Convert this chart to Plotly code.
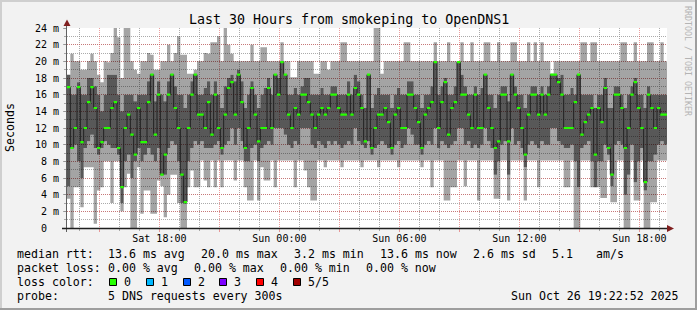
import pandas as pd
import plotly.graph_objects as go

# ---------------- data ----------------
start_time = "2025-10-25 13:22:52"
end_time = "2025-10-26 19:22:52"
bin_minutes = 10

light_min = [
    3.5, 0, 4.9, 4.9, 2.5, 7.3, 7.3, 7.3, 0.5, 4.5,
    4.9, 8, 8, 3, 8, 8, 2, 4.9, 6.5, 0,
    0, 7.3, 1.7, 4.5, 4.5, 1.7, 1.7, 5.7, 5, 1.3,
    4, 6.4, 6.4, 3, 0, 0, 4.9, 6.9, 4.9, 4.9,
    8.1, 5.7, 4.9, 8.1, 4.9, 8.1, 4.9, 8.1, 8.1, 8.1,
    5.7, 8.1, 8.1, 4.9, 3.3, 3.3, 8.1, 3.3, 7.3, 5.7,
    5.7, 8.1, 4.9, 8.1, 8.1, 8.1, 8.1, 8.1, 4.9, 8.1,
    8.1, 6.9, 4.9, 3.3, 3.3, 8.1, 8.1, 7.3, 8.1, 8.1,
    8.1, 8.1, 7.3, 8.1, 8.1, 8.1, 8.1, 8.1, 7.3, 8.1,
    8.1, 8.1, 8.1, 7.3, 8.1, 8.1, 8.1, 8.1, 8.1, 7.3,
    8.1, 8.1, 8.1, 8.1, 8.1, 8.1, 7.3, 8.1, 8.1, 4.9,
    8.1, 8.1, 8.1, 3.3, 3.3, 4.9, 4.9, 8.1, 8.1, 5,
    8.1, 8.1, 8.1, 3.3, 8.1, 8.1, 8.1, 8.1, 3.5, 3.5,
    8.1, 8.1, 3.3, 8.1, 8.1, 8.1, 8.1, 3.3, 8.1, 8.1,
    8.1, 4.9, 8.1, 8.1, 8.1, 8.1, 8.1, 8.1, 8.1, 4.9,
    4.9, 8.1, 0, 0, 8.1, 8.1, 8.1, 4.9, 4.9, 4.9,
    3.6, 3.6, 8.1, 3.1, 3.1, 8.1, 8.1, 0, 0, 8.1,
    3.3, 3.3, 8.1, 0, 0, 3.1, 3.1, 8.1, 8.1, 8.1,
]

dark_lo = [
    5, 9.6, 10, 8, 6, 9.6, 10.4, 11.2, 9.6, 8.8,
    9.6, 10.4, 10, 9.6, 9.6, 8.8, 3, 8, 8.8, 6,
    8, 9.6, 8, 8.8, 9.6, 8.8, 8, 9.6, 6.4, 6.4,
    9.6, 10.4, 10, 8, 3, 2.9, 8, 9.6, 10.4, 10,
    10.4, 9.6, 9.6, 9.6, 10, 10.4, 8.8, 10, 10.4, 12,
    10, 12, 10.4, 8, 8, 9.6, 10, 8, 9.6, 10,
    10.4, 10, 12, 12, 12, 11.2, 10, 9.6, 10.4, 10,
    12, 12, 12, 10, 9.6, 10.4, 10, 9.6, 10.4, 10,
    10.4, 10, 9.6, 10, 10.4, 10, 12, 10.4, 10, 9.6,
    10.4, 8.8, 9.6, 10, 10.4, 10, 9.6, 8.8, 10, 10.4,
    9.6, 10, 12, 11.2, 10, 10, 8.8, 10, 10.4, 10,
    12, 9.6, 10.4, 10, 9.6, 10, 10.4, 12, 12, 10,
    10.4, 9.6, 10, 9.6, 10, 12, 10.4, 9.6, 6.4, 8,
    10, 10.4, 6.4, 12, 10, 10.4, 9.6, 7.3, 10, 10.4,
    10, 9.6, 10.4, 10, 10, 12, 12, 10.4, 10, 9.6,
    9.6, 10, 8, 4.9, 9.6, 10, 10.4, 8, 4.9, 8,
    8, 10, 8.8, 5, 10, 10.4, 10, 4, 6.4, 10,
    5.5, 8, 9.6, 4.5, 8, 8, 8.8, 10, 10.4, 10,
]

median_rtt = [
    16.9, 9.6, 12, 16.9, 10.3, 12, 15.1, 16.9, 14.4, 9.6,
    10.3, 12, 12, 14.4, 15.1, 9.6, 4.9, 12, 13.6, 11.2,
    8.8, 14.4, 10.3, 10.3, 15.1, 18.4, 11.2, 16, 6.4, 8.8,
    16, 18.4, 14.4, 12, 6.4, 3.1, 12, 16, 18.4, 13.6,
    13.6, 12, 15.1, 11.2, 16, 12, 9.6, 13.6, 16.8, 17.5,
    13.6, 18.4, 15.1, 9.6, 12, 16.8, 13.6, 10.4, 12, 12,
    16.8, 12, 18.4, 16, 19.9, 18.4, 13.6, 12, 14.4, 13.6,
    16, 16, 15.1, 13.6, 12, 13.6, 14.4, 13.6, 14.4, 16,
    16, 14.4, 13.6, 13.6, 16, 13.6, 16.8, 16, 14.4, 10.4,
    18.4, 9.6, 12, 13.6, 13.6, 14.4, 12.7, 9.6, 13.6, 14.4,
    12, 12, 16, 16, 14.4, 12.7, 9.6, 13.6, 14.4, 15.1,
    19.9, 12, 15.1, 17.5, 11.2, 14.4, 15.1, 19.9, 16, 16,
    13.6, 12, 16, 12, 12, 18.4, 14.4, 12, 9.6, 10.4,
    16, 16, 10.4, 18.4, 16, 14.4, 12, 8.8, 13.6, 16,
    16, 13.6, 16, 13.6, 16, 18.4, 18.4, 17.5, 16, 12,
    12, 12, 15.1, 18.4, 11.2, 12.7, 13.6, 14.4, 8.8, 14.4,
    12.7, 16.8, 9.6, 6.4, 16, 16, 14.4, 9.6, 12, 16,
    17.5, 14.4, 12, 5.5, 16, 14.4, 12, 14.4, 13.6, 13.6,
]

dark_hi = [
    18.4, 16, 16, 17.5, 16, 16, 18, 18, 17, 16,
    14, 16, 18.4, 18.4, 18.4, 16, 14, 16, 16, 16,
    15.2, 16, 16, 16, 17.6, 18.4, 15.2, 17.6, 16, 15.2,
    17.6, 18.4, 17, 16, 16, 14.4, 16, 17.6, 18.4, 16,
    16, 16.8, 17.6, 16, 17.6, 16, 14.4, 17, 18, 18.4,
    17.6, 19, 17.6, 14.4, 16, 17.6, 16, 14.4, 16, 16.8,
    18, 16, 18.4, 18, 19.9, 18.4, 16, 16, 16.8, 16,
    17, 18, 18, 16, 16, 16, 16.8, 16, 16, 17,
    17, 16, 16, 16, 17.6, 16, 18.4, 17.6, 16, 14.4,
    18.4, 14.4, 16, 16.8, 16, 16, 16, 14.4, 16, 16.8,
    16, 16, 17.6, 17.6, 16, 16, 14.4, 16, 16, 17,
    19.9, 16, 17, 18, 16, 16, 17, 19.9, 18.4, 17,
    16, 16, 17, 16, 16.8, 18.4, 16, 16, 14.4, 16,
    17, 17, 15.2, 18.4, 17, 16, 16, 14.4, 16, 17,
    17, 16, 17, 16, 17, 18.4, 18.4, 18, 18.4, 16,
    16, 16.8, 16, 18.4, 16, 16, 16, 16, 14.4, 16,
    16, 18, 14.4, 14.4, 17, 17, 16, 14.4, 16, 17,
    18, 16, 16, 14.4, 17, 16, 16, 16, 16, 16,
]

light_max = [
    18.4, 20.9, 20, 20, 19, 19, 20, 20.9, 20, 18.4,
    17.5, 20, 19.9, 21, 24, 22.9, 18, 24, 24, 20,
    19, 18.5, 20, 20, 21, 20.8, 19, 19, 20, 20,
    22, 20, 21, 23, 20.8, 20.8, 18.5, 18.5, 19, 20,
    20, 21, 20.9, 22.3, 22.3, 23, 20, 24, 22, 20.9,
    20, 20, 20, 20, 20, 22, 20, 20, 21.7, 21.7,
    20, 20, 20, 20, 22.3, 20, 20, 18.1, 18.1, 20,
    20, 20, 20, 20, 18.5, 18.5, 20, 20, 19, 20,
    20, 20, 22.3, 22.3, 20, 20, 20, 20, 20, 20,
    20, 20, 24, 24, 18.5, 20, 20, 20, 20, 20,
    20, 22.3, 22.3, 20, 20, 20, 20, 20, 20, 20,
    22.3, 20, 20, 20, 22.3, 20, 20, 20, 22.3, 20,
    20, 22.3, 20, 20, 20, 22.3, 22.3, 20, 20, 22.3,
    20, 20, 20, 22.3, 22.3, 20, 20, 20, 22.3, 20,
    22.3, 20, 22.3, 20, 20, 18.5, 20, 20, 20, 20,
    20, 20, 20, 20, 22.3, 22.3, 20, 22.3, 22.3, 20,
    20, 20, 20, 20, 20, 20, 22.3, 22.3, 20, 20,
    22.3, 20, 20, 20, 22.3, 22.3, 20, 20, 22.3, 20,
]

y_tick_values = [0, 2, 4, 6, 8, 10, 12, 14, 16, 18, 20, 22, 24]
y_tick_text = ["0\u00a0\u00a0" if v == 0 else f"{v} m" for v in y_tick_values]

title_text = "Last 30 Hours from smokeping to OpenDNS1"
row_heads = ["median rtt:", "packet loss:", "loss color:", "probe:"]
rtt_items = ["13.6 ms avg", "20.0 ms max", "3.2 ms min", "13.6 ms now", "2.6 ms sd", "5.1 ", "am/s"]
loss_items = ["0.00 % avg", "0.00 % max", "0.00 % min", "0.00 % now"]
probe_items = ["5 DNS requests every 300s"]
loss_labels = ["0", "1", "2", "3", "4", "5/5"]
loss_colors = ["#26ff00", "#00b8ff", "#0059ff", "#7e00ff", "#ff0000", "#a10000"]
timestamp_text = "Sun Oct 26 19:22:52 2025"
watermark = "RRDTOOL / TOBI OETIKER"

# ---------------- layout helpers ----------------
W, H = 697, 310
L, R, T, B = 67, 30, 28, 82
PW, PH = W - L - R, H - T - B
MONO = "DejaVu Sans Mono"
LIGHT = "rgba(0,0,0,0.357)"   # #a4a4a4 on white
DARK = "rgba(0,0,0,0.655)"    # #585858 on white
GRID = "rgba(143,143,143,0.75)"
MGRID = "rgba(222,79,79,0.55)"
ARROW = "#801f1f"


def fx(x):
    return (x - L) / PW


def fy(y):
    return (T + PH - y) / PH


edges = pd.date_range(pd.Timestamp(start_time), periods=len(median_rtt) + 1,
                      freq=f"{bin_minutes}min")


def ext(a):
    return list(a) + [a[-1]]


fig = go.Figure()


def step(y, fill=None, color=None, line_color=None, width=0):
    fig.add_trace(go.Scatter(
        x=edges, y=ext(y), mode="lines",
        line=dict(shape="hv", width=width, color=line_color or "rgba(0,0,0,0)"),
        fill=fill, fillcolor=color, hoverinfo="skip", showlegend=False))


# smoke
step(light_min)
step(dark_lo, fill="tonexty", color=LIGHT)
step(dark_hi, fill="tonexty", color=DARK)
step(light_max, fill="tonexty", color=LIGHT)
# median line
step(median_rtt, line_color="#202020", width=1)
# loss-coloured median marks (thin band around median)
half = 0.13
step([m - half for m in median_rtt])
step([m + half for m in median_rtt], fill="tonexty", color=loss_colors[0])

annotations = []


def text(x, y, s, size=11.6, anchor="left", color="#000000", angle=0):
    annotations.append(dict(
        x=fx(x), y=fy(y), xref="paper", yref="paper", text=s, showarrow=False,
        xanchor=anchor, yanchor="middle", textangle=angle, borderpad=0,
        font=dict(family=MONO, size=size, color=color)))


text(348.5, 19, title_text, size=13.3, anchor="center")
text(10, 128, "Seconds", angle=-90, anchor="center")
text(688, 61, watermark, size=8.3, angle=90, anchor="center", color="#b4b4b4")

rows_y = [254, 268.3, 282.3, 296]
CW, GAP, COL = 7.0, 16, 107.3
for head, yy in zip(row_heads, rows_y):
    text(16, yy, head)
for items, yy in [(rtt_items, rows_y[0]), (loss_items, rows_y[1]), (probe_items, rows_y[3])]:
    xx = COL
    for it in items:
        text(xx, yy, it.replace(" ", "\u00a0"))
        xx += len(it) * CW + GAP
text(680, rows_y[3], timestamp_text, anchor="right")

shapes = []
for k, (lab, col) in enumerate(zip(loss_labels, loss_colors)):
    bx = round(109 + k * 36.8) + 0.5
    shapes.append(dict(type="rect", xref="paper", yref="paper",
                       x0=fx(bx), x1=fx(bx + 7), y0=fy(278.5), y1=fy(285.5),
                       fillcolor=col, line=dict(color="#000000", width=1)))
    text(bx + 13.5, rows_y[2], lab)

# frame (3d border)
def rect(x0, y0, x1, y1, color):
    shapes.append(dict(type="rect", xref="paper", yref="paper", x0=fx(x0), x1=fx(x1),
                       y0=fy(y0), y1=fy(y1), fillcolor=color, line=dict(width=0)))


rect(0, 0, W, 2, "#cfcfcf")
rect(0, 0, 2, H, "#cfcfcf")
rect(0, H - 2, W, H, "#9e9e9e")
rect(W - 2, 0, W, H, "#9e9e9e")

# axis lines
shapes.append(dict(type="line", xref="paper", yref="paper", x0=fx(66.5), x1=fx(66.5),
                   y0=fy(232), y1=fy(23), line=dict(color="#606060", width=1)))
shapes.append(dict(type="line", xref="paper", yref="paper", x0=fx(62), x1=fx(669),
                   y0=fy(228.5), y1=fy(228.5), line=dict(color="#1f1f1f", width=1.5)))
# arrows
shapes.append(dict(type="path", xref="paper", yref="paper",
                   path=f"M {fx(63.5)},{fy(26)} L {fx(70.5)},{fy(26)} L {fx(67)},{fy(19.5)} Z",
                   fillcolor=ARROW, line=dict(width=0)))
shapes.append(dict(type="path", xref="paper", yref="paper",
                   path=f"M {fx(667)},{fy(225)} L {fx(667)},{fy(232)} L {fx(674)},{fy(228.5)} Z",
                   fillcolor=ARROW, line=dict(width=0)))

fig.update_layout(
    width=W, height=H, autosize=False,
    margin=dict(l=L, r=R, t=T, b=B, pad=0),
    paper_bgcolor="#f2f2f2", plot_bgcolor="#ffffff",
    showlegend=False, hovermode=False,
    annotations=annotations, shapes=shapes,
    xaxis=dict(
        type="date", range=[start_time, end_time],
        tick0="2025-10-25 18:00", dtick=3 * 3600 * 1000, ticklabelstep=2,
        tickformat="%a %H:%M", showgrid=True, gridcolor=MGRID, griddash="1px,1px",
        gridwidth=1, ticks="outside", ticklen=3, tickcolor=MGRID,
        ticklabelstandoff=-2,
        tickfont=dict(family=MONO, size=10, color="#000000"),
        showline=False, zeroline=False, automargin=False, fixedrange=True,
        minor=dict(tickmode="linear", tick0="2025-10-25 14:00", dtick=3600 * 1000,
                   showgrid=True, gridcolor=GRID, griddash="1px,1px",
                   ticks="outside", ticklen=2, tickcolor=GRID),
    ),
    yaxis=dict(
        range=[0, 24], tickmode="array", tickvals=y_tick_values, ticktext=y_tick_text,
        showgrid=True, gridcolor=MGRID, griddash="1px,1px", gridwidth=1,
        ticks="outside", ticklen=3, tickcolor=GRID, ticklabelstandoff=2,
        tickfont=dict(family=MONO, size=10, color="#000000"),
        showline=False, zeroline=False, automargin=False, fixedrange=True,
        minor=dict(tickmode="linear", tick0=0, dtick=1, showgrid=True,
                   gridcolor=GRID, griddash="1px,1px", ticks="outside", ticklen=2,
                   tickcolor=GRID),
    ),
)

fig.write_html("out.html", config={"displayModeBar": False, "staticPlot": True})
